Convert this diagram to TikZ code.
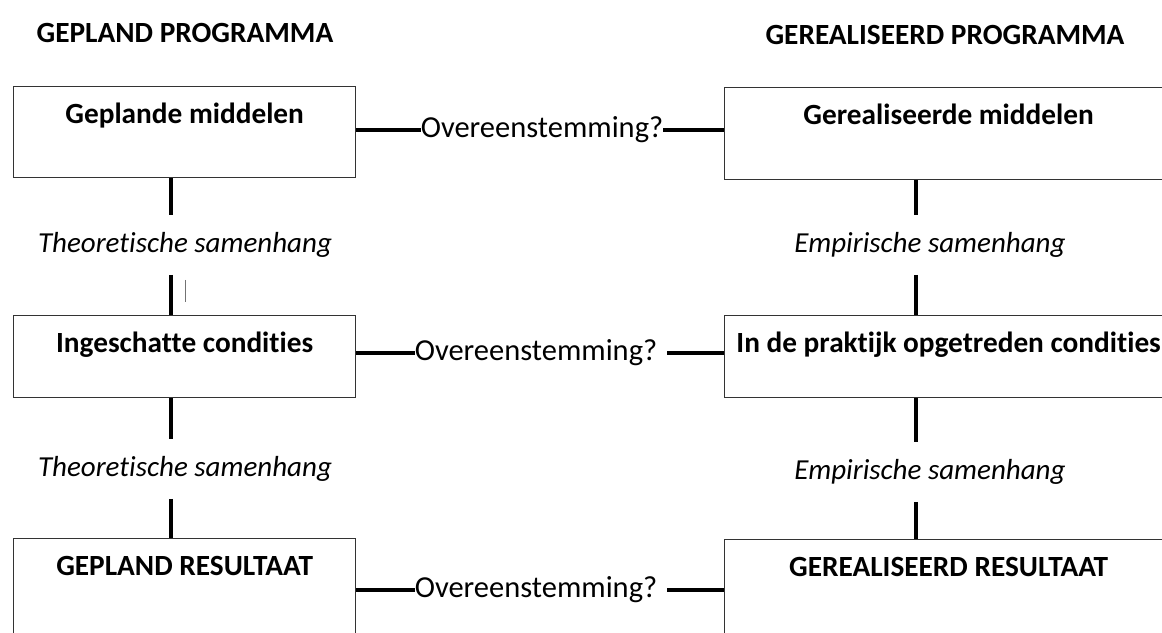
\documentclass[tikz,border=0pt]{standalone}
\usepackage{fontspec}
\setmainfont{Carlito}[Ligatures=NoCommon]
\usetikzlibrary{positioning}

\begin{document}
\begin{tikzpicture}[
  x=1pt, y=-1pt,
  box/.style={rectangle, draw=black!80, line width=1.3pt, anchor=north west, inner xsep=0pt, inner ysep=8pt, text height=29pt, text depth=#1, align=center, font=\bfseries\fontsize{29.3}{34}\selectfont},
  title/.style={font=\bfseries\fontsize{29.3}{34}\selectfont},
  tie/.style={inner ysep=17pt, font=\itshape\fontsize{29}{34}\selectfont},
  match/.style={inner xsep=0pt, font=\fontsize{30.5}{34}\selectfont},
  link/.style={line width=3.2pt},
  stray/.style={line width=0.7pt, black!55}
]
\useasboundingbox (0,0) rectangle (1162,632);
\clip (0,0) rectangle (1162,632);
\coordinate (lx) at (171,0);
\coordinate (rx) at (916,0);

\node[title] (plan) at (185,33) {GEPLAND PROGRAMMA};
\node[title] (real) at (945,35) {GEREALISEERD PROGRAMMA};

\node[box=46pt, minimum width=342pt] (gm) at (13,86) {Geplande middelen};
\node[box=47pt, minimum width=448pt] (rm) at (724,87) {Gerealiseerde middelen};
\node[box=37pt, minimum width=342pt] (gc) at (13,315) {Ingeschatte condities};
\node[box=37pt, minimum width=448pt] (rc) at (724,315) {In de praktijk opgetreden condities};
\node[box=70pt, minimum width=342pt] (gr) at (13,538) {GEPLAND RESULTAAT};
\node[box=70pt, minimum width=448pt] (rr) at (724,539) {GEREALISEERD RESULTAAT};

\node[match] (m1) at (542,130) {Overeenstemming?};
\node[match] (m2) at (536,353) {Overeenstemming?};
\node[match] (m3) at (536,590) {Overeenstemming?};

\node[tie] (t1) at (185,245) {Theoretische samenhang};
\node[tie] (t2) at (185,469) {Theoretische samenhang};
\node[tie] (e1) at (930,245) {Empirische samenhang};
\node[tie] (e2) at (930,472) {Empirische samenhang};

% overeenstemming
\draw[link] (m1.west -| gm.east) -- (m1.west);
\draw[link] (m1.east) -- (m1.east -| rm.west);
\draw[link] (m2.west -| gc.east) -- (m2.west);
\draw[link, shorten <=10pt] (m2.east) -- (m2.east -| rc.west);
\draw[link] (m3.west -| gr.east) -- (m3.west);
\draw[link, shorten <=10pt] (m3.east) -- (m3.east -| rr.west);

% samenhang
\draw[link] (gm.south -| lx) -- (t1.north -| lx);
\draw[link] (t1.south -| lx) -- (gc.north -| lx);
\draw[link] (gc.south -| lx) -- (t2.north -| lx);
\draw[link] (t2.south -| lx) -- (gr.north -| lx);
\draw[link] (rm.south -| rx) -- (e1.north -| rx);
\draw[link] (e1.south -| rx) -- (rc.north -| rx);
\draw[link] (rc.south -| rx) -- (e2.north -| rx);
\draw[link] (e2.south -| rx) -- (rr.north -| rx);

\draw[stray] (t1.south) ++(0,5) -- ++(0,22);
\end{tikzpicture}
\end{document}
